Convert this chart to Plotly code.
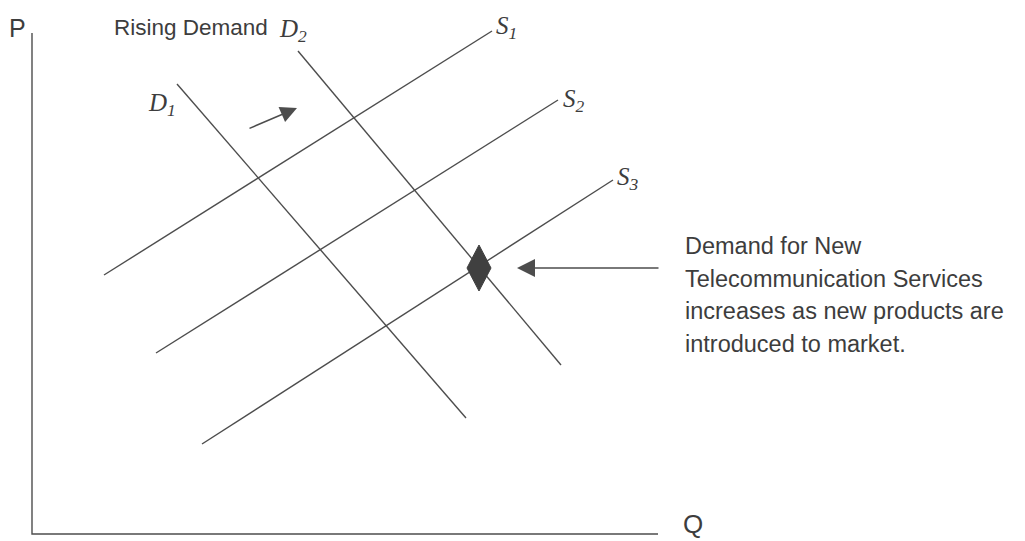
import plotly.graph_objects as go

H = 541  # canvas height in chart units (P measured upward from the bottom)

# Supply curves (Q, P) end points
supply_names = ["S", "S", "S"]
supply_subs = ["1", "2", "3"]
supply_q0 = [104, 156, 202]
supply_p0 = [H - 275, H - 353, H - 444]
supply_q1 = [492, 558, 613]
supply_p1 = [H - 31, H - 100, H - 180]

# Demand curves (Q, P) end points
demand_names = ["D", "D"]
demand_subs = ["1", "2"]
demand_q0 = [177, 298]
demand_p0 = [H - 84, H - 51]
demand_q1 = [466, 561]
demand_p1 = [H - 418, H - 365]

# Axes
axis_q = [32, 32, 658]
axis_p = [H - 33, H - 534, H - 534]

# Equilibrium diamond
eq_q, eq_p = 479, H - 268
diamond_q = [eq_q, eq_q + 12, eq_q, eq_q - 12, eq_q]
diamond_p = [eq_p + 23, eq_p, eq_p - 23, eq_p, eq_p + 23]

note_lines = ["Demand for New", "Telecommunication Services",
              "increases as new products are", "introduced to market."]

LINE = "#4d4d4d"
TEXT = "#3d3d3d"

fig = go.Figure()
fig.add_trace(go.Scatter(x=axis_q, y=axis_p, mode="lines",
                         line=dict(color=LINE, width=1.4), hoverinfo="skip"))
for i in range(3):
    fig.add_trace(go.Scatter(x=[supply_q0[i], supply_q1[i]], y=[supply_p0[i], supply_p1[i]],
                             mode="lines", line=dict(color=LINE, width=1.4), hoverinfo="skip"))
for i in range(2):
    fig.add_trace(go.Scatter(x=[demand_q0[i], demand_q1[i]], y=[demand_p0[i], demand_p1[i]],
                             mode="lines", line=dict(color=LINE, width=1.4), hoverinfo="skip"))
fig.add_trace(go.Scatter(x=diamond_q, y=diamond_p, mode="lines", fill="toself",
                         fillcolor="#404040", line=dict(color="#404040", width=1), hoverinfo="skip"))

ann = []
serif = dict(family="Liberation Serif", size=25, color=TEXT)


def lab(name, sub):
    return "<i>%s<sub>%s</sub></i>" % (name, sub)


# curve labels
ann.append(dict(x=supply_q1[0] + 2, y=H - 27, text=lab(supply_names[0], supply_subs[0]), xanchor="left", yanchor="middle", font=serif))
ann.append(dict(x=supply_q1[1] + 3, y=H - 100, text=lab(supply_names[1], supply_subs[1]), xanchor="left", yanchor="middle", font=serif))
ann.append(dict(x=supply_q1[2] + 2, y=H - 178, text=lab(supply_names[2], supply_subs[2]), xanchor="left", yanchor="middle", font=serif))
ann.append(dict(x=146, y=H - 104, text=lab(demand_names[0], demand_subs[0]), xanchor="left", yanchor="middle", font=serif))
ann.append(dict(x=277, y=H - 30, text=lab(demand_names[1], demand_subs[1]), xanchor="left", yanchor="middle", font=serif))
ann.append(dict(x=112, y=H - 27, text="Rising Demand", xanchor="left", yanchor="middle",
                font=dict(family="Liberation Sans", size=22.5, color=TEXT)))
ann.append(dict(x=7, y=H - 28, text="P", xanchor="left", yanchor="middle",
                font=dict(family="Liberation Sans", size=25, color=TEXT)))
ann.append(dict(x=681, y=H - 524, text="Q", xanchor="left", yanchor="middle",
                font=dict(family="Liberation Sans", size=26, color=TEXT)))
for k, t in enumerate(note_lines):
    ann.append(dict(x=683, y=H - 246 - 32.5 * k, text=t, xanchor="left", yanchor="middle",
                    font=dict(family="Liberation Sans", size=23.5, color=TEXT)))
# arrows
ann.append(dict(x=517, y=eq_p, ax=660, ay=eq_p, axref="x", ayref="y", text="", showarrow=True,
                arrowhead=2, arrowsize=2.4, arrowwidth=1.5, arrowcolor=LINE))
ann.append(dict(x=297, y=H - 108, ax=248, ay=H - 129, axref="x", ayref="y", text="", showarrow=True,
                arrowhead=2, arrowsize=2.2, arrowwidth=1.5, arrowcolor=LINE))
for a in ann:
    a.setdefault("showarrow", False)
    a["xref"] = "x"
    a["yref"] = "y"

fig.update_layout(
    width=1025, height=541, margin=dict(l=0, r=0, t=0, b=0),
    paper_bgcolor="white", plot_bgcolor="white", showlegend=False,
    xaxis=dict(range=[0, 1025], visible=False, fixedrange=True),
    yaxis=dict(range=[0, H], visible=False, fixedrange=True),
    annotations=ann,
)
fig.write_html("out.html", config={"displayModeBar": False},
               post_script="document.body.style.margin='0';document.body.style.overflow='hidden';")
